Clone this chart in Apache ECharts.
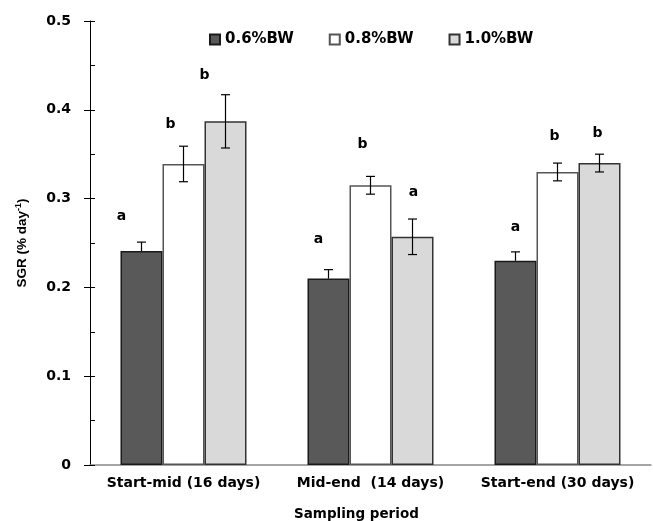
<!DOCTYPE html>
<html><head><meta charset="utf-8">
<script src="https://cdn.jsdelivr.net/npm/echarts@6/dist/echarts.min.js"></script>
<style>html,body{margin:0;padding:0;background:#fff}#c{width:653px;height:521px}</style>
</head><body><div id="c"></div>
<script>
// ---- data ----
const categories = ['Start-mid (16 days)', 'Mid-end  (14 days)', 'Start-end (30 days)'];
const seriesNames = ['0.6%BW', '0.8%BW', '1.0%BW'];
const sgr06 = [0.241, 0.210, 0.230];
const sgr08 = [0.339, 0.315, 0.330];
const sgr10 = [0.387, 0.257, 0.340];
const err06 = [0.010, 0.010, 0.010];
const err08 = [0.020, 0.010, 0.010];
const err10 = [0.030, 0.020, 0.010];
const letters06 = ['a', 'a', 'a'];
const letters08 = ['b', 'b', 'b'];
const letters10 = ['b', 'a', 'b'];
const letterY06 = [0.280, 0.254, 0.268];
const letterY08 = [0.384, 0.361, 0.370];
const letterY10 = [0.439, 0.307, 0.373];

// ---- layout / style ----
const BAR_W = 42;
const OFFS = [-BAR_W, 0, BAR_W];
const letterDx = [[-20, -10, 0], [-13, -8, -3], [-21, 1, -2]];
const errDir = ['plus', 'both', 'both'];
const fills = ['#595959', '#ffffff', '#d9d9d9'];
const borders = ['#1a1a1a', '#555555', '#333333'];
const FONT = 'DejaVu Sans';

const values = [sgr06, sgr08, sgr10];
const errs = [err06, err08, err10];
const letters = [letters06, letters08, letters10];
const letterYs = [letterY06, letterY08, letterY10];

function errRender(si) {
  return function (params, api) {
    const c = api.value(0), v = api.value(1), e = api.value(2);
    const top = api.coord([c, v + e]);
    const bot = api.coord([c, errDir[si] === 'plus' ? v : v - e]);
    const x = top[0] + OFFS[si];
    const cap = 4.5;
    const st = { stroke: '#000', lineWidth: 1.2 };
    const ch = [
      { type: 'line', shape: { x1: x, y1: top[1], x2: x, y2: bot[1] }, style: st },
      { type: 'line', shape: { x1: x - cap, y1: top[1], x2: x + cap, y2: top[1] }, style: st }
    ];
    if (errDir[si] !== 'plus') ch.push({ type: 'line', shape: { x1: x - cap, y1: bot[1], x2: x + cap, y2: bot[1] }, style: st });
    return { type: 'group', children: ch };
  };
}
function letterRender(si) {
  return function (params, api) {
    const c = api.value(0), y = api.value(1);
    const p = api.coord([c, y]);
    return {
      type: 'text', x: p[0] + OFFS[si] + letterDx[si][c], y: p[1],
      style: { text: letters[si][c], fill: '#000', font: 'bold 14px "' + FONT + '"', align: 'center', verticalAlign: 'middle' }
    };
  };
}

const series = [];
for (let s = 0; s < 3; s++) {
  series.push({
    name: seriesNames[s], type: 'bar', barWidth: BAR_W, barGap: '0%',
    data: values[s],
    itemStyle: { color: fills[s], borderColor: borders[s], borderWidth: 1.5 },
    z: 2
  });
}
for (let s = 0; s < 3; s++) {
  series.push({
    type: 'custom', renderItem: errRender(s), z: 5,
    data: values[s].map((v, i) => [i, v, errs[s][i]]),
    encode: { x: 0, y: 1 }
  });
  series.push({
    type: 'custom', renderItem: letterRender(s), z: 6,
    data: letterYs[s].map((v, i) => [i, v]),
    encode: { x: 0, y: 1 }
  });
}

const chart = echarts.init(document.getElementById('c'));
chart.setOption({
  animation: false,
  backgroundColor: '#fff',
  textStyle: { fontFamily: FONT },
  grid: { left: 90, right: 2, top: 21, bottom: 56 },
  title: {
    text: 'Sampling period', left: 289, top: 502,
    textStyle: { fontFamily: FONT, fontWeight: 'bold', fontSize: 13.5, color: '#000' }
  },
  legend: {
    data: seriesNames, left: 204, top: 27, icon: 'rect', itemWidth: 10, itemHeight: 10,
    itemGap: 35, textStyle: { fontFamily: FONT, fontWeight: 'bold', fontSize: 15, color: '#000' }
  },
  xAxis: {
    type: 'category', data: categories,
    axisLine: { lineStyle: { color: '#888', width: 1.5 } },
    axisTick: { show: false },
    axisLabel: { interval: 0, fontFamily: FONT, fontWeight: 'bold', fontSize: 14, color: '#000', margin: 11 }
  },
  yAxis: [{
    type: 'value', min: 0, max: 0.5, interval: 0.1,
    axisLine: { show: true, lineStyle: { color: '#000', width: 1 } },
    axisTick: { show: true, inside: false, length: 6, lineStyle: { color: '#000' } },
    axisLabel: { fontFamily: FONT, fontWeight: 'bold', fontSize: 14, color: '#000', margin: 19 },
    splitLine: { show: false },
    name: '{a|SGR (% day}{s|-1}{a|)}', nameLocation: 'middle', nameGap: 60, nameRotate: 90,
    nameTextStyle: {
      rich: {
        a: { fontFamily: 'Liberation Sans', fontWeight: 'bold', fontSize: 13.5, color: '#000' },
        s: { fontFamily: 'Liberation Sans', fontWeight: 'bold', fontSize: 9, color: '#000', verticalAlign: 'top', padding: [0, 0, 7, 0] }
      }
    }
  }, {
    type: 'value', min: 0, max: 0.5, interval: 0.05, position: 'left',
    axisLine: { show: false },
    axisTick: { show: true, inside: true, length: 5, lineStyle: { color: '#000' } },
    axisLabel: { show: false }, splitLine: { show: false }
  }],
  series: series
});
</script>
</body></html>
